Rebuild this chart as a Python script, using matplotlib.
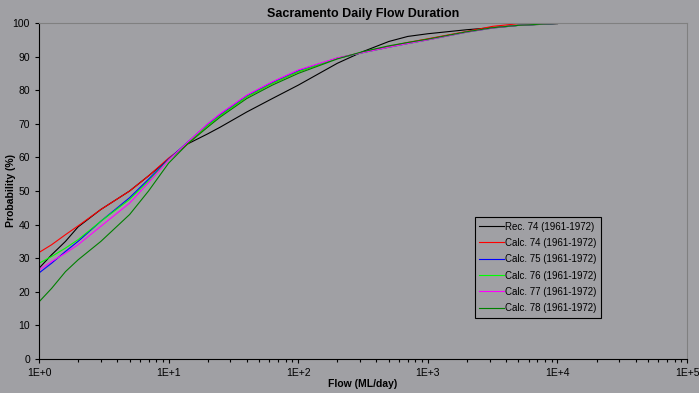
import matplotlib.pyplot as plt
from matplotlib.ticker import LogLocator, FixedLocator

# flow (ML/day) sample points shared by the series
flow = [1, 1.25, 1.6, 2, 3, 5, 7, 10, 14, 20, 25, 40, 63, 100, 200, 316, 500,
        700, 1000, 2000, 3160, 5000, 10000]
flow78 = flow + [50000]

rec74 = [27, 31, 35, 39.3, 44.5, 50, 54.5, 59.5, 64, 67, 69, 73.5, 77.5, 81.5,
         88, 91.5, 94.5, 96.0, 96.8, 98, 98.6, 99.3, 99.8]
calc74 = [31.7, 34, 37, 39.6, 44.5, 50, 54.5, 59.8, 64, 69.5, 72.5, 78, 82, 85.5,
          89.5, 91.3, 93, 94.2, 95.3, 97.5, 99.0, 99.8, 100]
calc75 = [25.6, 28.5, 32, 35, 41, 48, 53.5, 59.5, 64.5, 69.8, 72.8, 78.3, 82.3, 85.8,
          89.5, 91.2, 92.8, 93.9, 95, 97.3, 98.5, 99.3, 99.9]
calc76 = [28.5, 30.5, 33, 35.5, 41, 47.5, 53, 59.3, 64.3, 69.5, 72.4, 78, 82, 85.5,
          89.5, 91.2, 92.8, 93.9, 95, 97.3, 98.5, 99.3, 99.9]
calc77 = [26.5, 29, 31.5, 34, 39.5, 46.4, 52.5, 59.2, 64.5, 70, 73, 78.5, 82.5, 86,
          89.6, 91.2, 92.8, 93.9, 95, 97.3, 98.5, 99.3, 99.9]
calc78 = [17, 21, 26, 29.5, 35, 43, 50, 58.3, 64, 69, 72, 77.5, 81.5, 85,
          89.3, 91.5, 93.2, 94.2, 95.2, 97.4, 98.6, 99.3, 99.9, 100]

labels = ["Rec. 74 (1961-1972)", "Calc. 74 (1961-1972)", "Calc. 75 (1961-1972)",
          "Calc. 76 (1961-1972)", "Calc. 77 (1961-1972)", "Calc. 78 (1961-1972)"]
xticklabels = ["1E+0", "1E+1", "1E+2", "1E+3", "1E+4", "1E+5"]

bg = "#a0a0a4"
plt.rcParams['font.family'] = ['Liberation Sans', 'DejaVu Sans']

fig = plt.figure(figsize=(6.99, 3.93), dpi=100, facecolor=bg)
ax = fig.add_axes([0.0558, 0.0865, 0.9272, 0.855], facecolor=bg)

ax.plot(flow, rec74, c='black', lw=0.8, label=labels[0])
ax.plot(flow, calc74, c='red', lw=0.8, label=labels[1])
ax.plot(flow, calc75, c='blue', lw=0.8, label=labels[2])
ax.plot(flow, calc76, c='#00ff00', lw=0.8, label=labels[3])
ax.plot(flow, calc77, c='magenta', lw=0.8, label=labels[4])
ax.plot(flow78, calc78, c='#008000', lw=0.8, label=labels[5])

ax.set_xscale('log')
ax.set_xlim(1, 1e5)
ax.set_ylim(0, 100)
ax.xaxis.set_major_locator(FixedLocator([1, 10, 100, 1000, 10000, 100000]))
ax.set_xticklabels(xticklabels)
ax.xaxis.set_minor_locator(LogLocator(base=10, subs=range(2, 10)))
ax.set_yticks(range(0, 101, 10))
ax.tick_params(axis='both', direction='out', labelsize=7.5, length=3, width=0.8, colors='black')
ax.tick_params(axis='x', which='minor', length=2, width=0.8)

ax.spines['left'].set_color('black')
ax.spines['bottom'].set_color('black')
ax.spines['top'].set_color('#808080')
ax.spines['right'].set_color('#808080')

ax.set_title("Sacramento Daily Flow Duration", fontsize=9, fontweight='bold', pad=4)
ax.set_xlabel("Flow (ML/day)", fontsize=7.5, fontweight='bold', labelpad=1)
ax.set_ylabel("Probability (%)", fontsize=7.5, fontweight='bold')
ax.yaxis.set_label_coords(-0.036, 0.5)

leg = ax.legend(loc='upper left', bbox_to_anchor=(0.672, 0.422), fontsize=7,
                frameon=True, fancybox=False, framealpha=1, facecolor=bg,
                edgecolor='black', handlelength=2.6, handletextpad=0.1,
                labelspacing=0.65, borderpad=0.45, borderaxespad=0)
leg.get_frame().set_linewidth(0.8)

plt.savefig("out.png", dpi=100, facecolor=bg)
